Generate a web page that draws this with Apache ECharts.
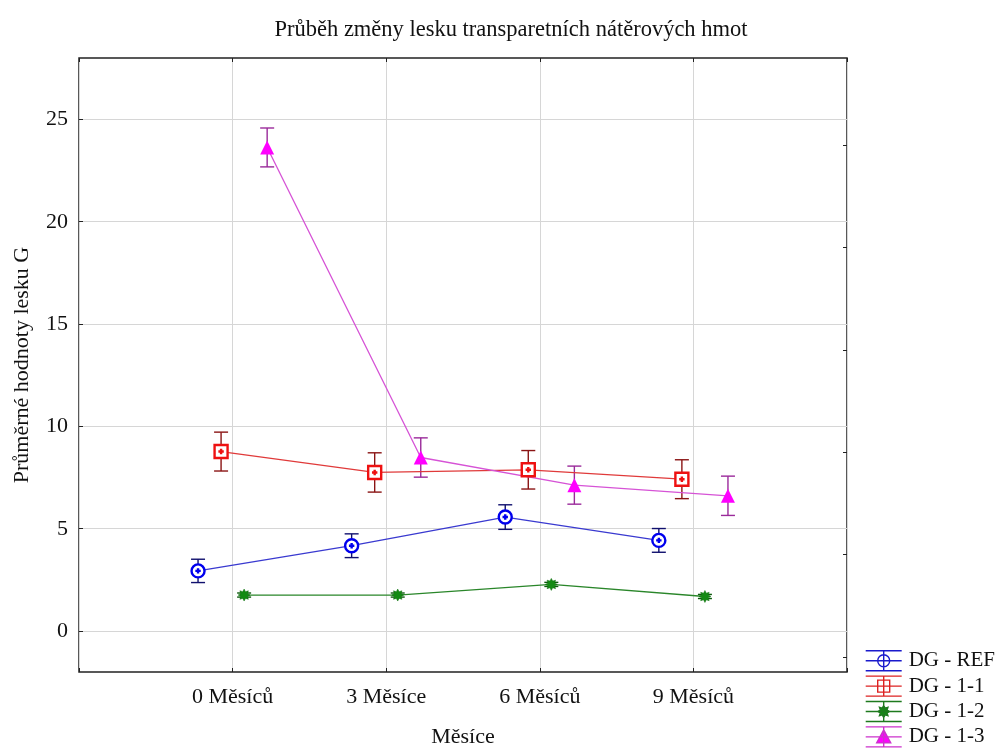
<!DOCTYPE html>
<html><head><meta charset="utf-8">
<script src="https://cdn.jsdelivr.net/npm/echarts@6/dist/echarts.min.js"></script>
<style>html,body{margin:0;background:#fff}#c{width:1002px;height:749px}</style>
</head><body><div id="c"></div>
<script>
// Months of exposure and mean gloss values (G) with error half-widths
const categories = ['0 Měsíců', '3 Měsíce', '6 Měsíců', '9 Měsíců'];
const seriesNames = ['DG - REF', 'DG - 1-1', 'DG - 1-2', 'DG - 1-3'];
const meanREF = [2.94, 4.17, 5.57, 4.43];
const errREF  = [0.57, 0.58, 0.60, 0.58];
const mean11  = [8.77, 7.75, 7.88, 7.42];
const err11   = [0.95, 0.96, 0.94, 0.95];
const mean12  = [1.76, 1.76, 2.28, 1.69];
const err12   = [0.10, 0.10, 0.10, 0.10];
const mean13  = [23.63, 8.48, 7.13, 6.61];
const err13   = [0.95, 0.96, 0.93, 0.96];
const yTicks  = [0, 5, 10, 15, 20, 25];
const yTicksRight = [-1.27, 3.73, 8.73, 13.73, 18.73, 23.73];

const FONT = '"Liberation Serif", "Times New Roman", serif';

// horizontal dodge of the four groups around each month
const dodge = [-0.225, -0.075, 0.075, 0.225];

function starPts(n, ro, ri, cx, cy) {
  let d = '';
  for (let i = 0; i < 2 * n; i++) {
    const r = i % 2 ? ri : ro;
    const a = Math.PI * i / n - Math.PI / 2;
    d += (i ? 'L' : 'M') + (cx + r * Math.cos(a)).toFixed(2) + ',' + (cy + r * Math.sin(a)).toFixed(2);
  }
  return d + 'Z';
}

// legend glyph: error bar with caps, connecting line and marker
const capLines = 'M0,0L36,0M0,10L36,10M0,20L36,20M18,0L18,20';
const legendIcons = [
  'path://' + capLines + 'M18,4A6,6 0 1,1 18,16A6,6 0 1,1 18,4Z',
  'path://' + capLines + 'M12,4L24,4L24,16L12,16Z',
  'path://' + capLines + starPts(8, 6, 3.6, 18, 10),
  'path://' + capLines + 'M18,3L25,16L11,16Z'
];

const groups = [
  { name: seriesNames[0], mean: meanREF, err: errREF, line: '#3a3ad0', bar: '#10106e',
    symbol: 'path://M0,-6A6,6 0 1,1 0,6A6,6 0 1,1 0,-6ZM-2.5,0L2.5,0M0,-2.5L0,2.5',
    size: 13, fill: '#ffffff', stroke: '#0000ee', bw: 2.4 },
  { name: seriesNames[1], mean: mean11, err: err11, line: '#e03a3a', bar: '#8a1414',
    symbol: 'path://M-6,-6L6,-6L6,6L-6,6ZM-2.5,0L2.5,0M0,-2.5L0,2.5',
    size: 13, fill: '#ffffff', stroke: '#ee1111', bw: 2.4 },
  { name: seriesNames[2], mean: mean12, err: err12, line: '#2a862a', bar: '#0c5a0c',
    symbol: 'path://' + starPts(8, 6, 3.6, 0, 0), size: 12, fill: '#138a13', stroke: '#0f6e0f', bw: 0.5 },
  { name: seriesNames[3], mean: mean13, err: err13, line: '#d653d6', bar: '#9a2a9a',
    symbol: 'triangle', size: 14, fill: '#ff00ff', stroke: '#ff00ff', bw: 0 }
];

function errRender(color) {
  return function (params, api) {
    const x = api.value(0), lo = api.value(1), hi = api.value(2);
    const a = api.coord([x, hi]), b = api.coord([x, lo]);
    const w = 7, st = { stroke: color, lineWidth: 1.4 };
    return { type: 'group', children: [
      { type: 'line', shape: { x1: a[0], y1: a[1], x2: b[0], y2: b[1] }, style: st },
      { type: 'line', shape: { x1: a[0] - w, y1: a[1], x2: a[0] + w, y2: a[1] }, style: st },
      { type: 'line', shape: { x1: b[0] - w, y1: b[1], x2: b[0] + w, y2: b[1] }, style: st }
    ] };
  };
}

const series = [];
groups.forEach((g, gi) => {
  series.push({
    type: 'custom', name: g.name + ' err', z: 2,
    renderItem: errRender(g.bar),
    data: g.mean.map((m, i) => [i + dodge[gi], m - g.err[i], m + g.err[i]]),
    silent: true
  });
});
groups.forEach((g, gi) => {
  series.push({
    type: 'line', name: g.name, z: 3,
    data: g.mean.map((m, i) => [i + dodge[gi], m]),
    symbol: g.symbol, symbolSize: g.size, symbolKeepAspect: true,
    showAllSymbol: true,
    itemStyle: { color: g.fill, borderColor: g.stroke, borderWidth: g.bw, opacity: 1 },
    lineStyle: { color: g.line, width: 1.3 },
    emphasis: { disabled: true },
    animation: false
  });
});

const legendFill = ['rgba(0,0,0,0)', 'rgba(0,0,0,0)', '#138a13', '#ff00ff'];
const legendStroke = ['#1a1acc', '#dd2222', '#1e7a1e', '#cc33cc'];

const chart = echarts.init(document.getElementById('c'), null, { renderer: 'canvas' });
chart.setOption({
  animation: false,
  backgroundColor: '#ffffff',
  title: {
    text: 'Průběh změny lesku transparetních nátěrových hmot',
    left: 506, top: 14, textAlign: 'center',
    textStyle: { fontFamily: FONT, fontSize: 22.5, fontWeight: 'normal', color: '#111' }
  },
  grid: { left: 79, top: 58, right: 155, bottom: 77, show: true, outerBoundsMode: 'none',
          containLabel: false,
          borderColor: '#222', borderWidth: 1.5, backgroundColor: '#fff' },
  legend: {
    data: seriesNames.map((n, i) => ({
      name: n, icon: legendIcons[i],
      itemStyle: { color: legendFill[i], borderColor: legendStroke[i], borderWidth: 1.4 }
    })),
    orient: 'vertical', left: 865, top: 650, padding: 0,
    itemWidth: 36, itemHeight: 20, itemGap: 4,
    textStyle: { fontFamily: FONT, fontSize: 21, color: '#111', padding: [0, 0, 0, 2] },
    selectedMode: false
  },
  xAxis: [{
    type: 'value', min: -1, max: 4, interval: 1,
    name: 'Měsíce', nameLocation: 'middle', nameGap: 54,
    nameTextStyle: { fontFamily: FONT, fontSize: 22, color: '#111' },
    axisLine: { show: false, onZero: false },
    axisTick: { show: true, inside: true, length: 4, lineStyle: { color: '#222' } },
    axisLabel: { fontFamily: FONT, fontSize: 22, color: '#111', margin: 14,
      formatter: v => (v >= 0 && v < categories.length) ? categories[v] : '' },
    splitLine: { show: true, lineStyle: { color: '#d6d6d6', width: 1 } }
  }, {
    type: 'value', position: 'top', min: -1, max: 4, interval: 1,
    axisLine: { show: false, onZero: false }, axisLabel: { show: false }, splitLine: { show: false },
    axisTick: { show: true, inside: true, length: 4, lineStyle: { color: '#222' } }
  }],
  yAxis: [{
    type: 'value', min: -2, max: 28,
    name: 'Průměrné hodnoty lesku G', nameLocation: 'middle', nameGap: 46,
    nameTextStyle: { fontFamily: FONT, fontSize: 22, color: '#111' },
    axisLine: { show: false, onZero: false },
    axisTick: { show: true, inside: true, length: 4, customValues: yTicks, lineStyle: { color: '#222' } },
    axisLabel: { fontFamily: FONT, fontSize: 22, color: '#111', margin: 11, customValues: yTicks },
    splitLine: { show: true, lineStyle: { color: '#d6d6d6', width: 1 } }
  }, {
    type: 'value', position: 'right', min: -2, max: 28,
    axisLine: { show: false, onZero: false }, axisLabel: { show: false }, splitLine: { show: false },
    axisTick: { show: true, inside: true, length: 4, customValues: yTicksRight, lineStyle: { color: '#222' } }
  }],
  series: series
});
</script></body></html>
